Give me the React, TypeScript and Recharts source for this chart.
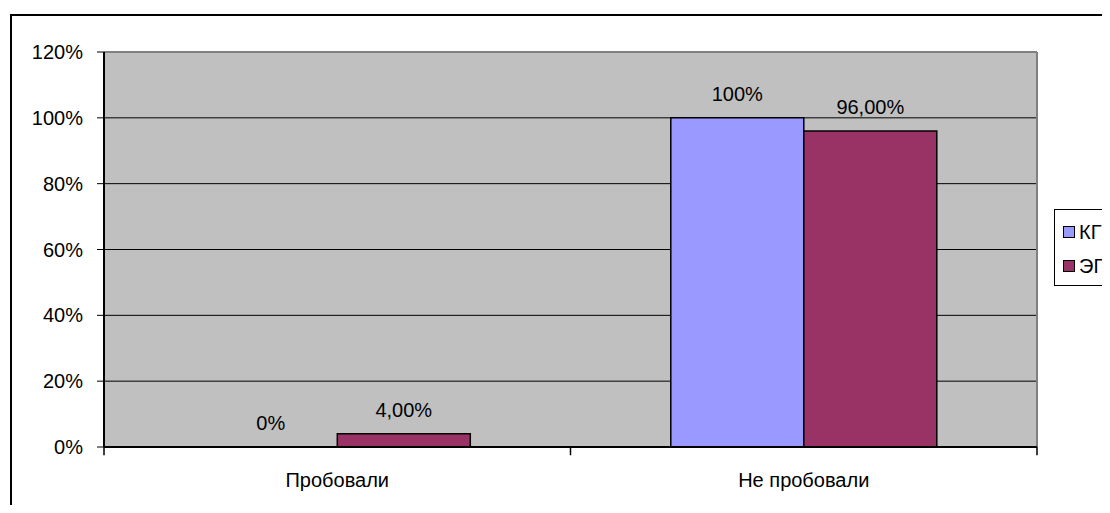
import { BarChart, Bar, XAxis, YAxis, CartesianGrid, LabelList, ReferenceLine } from 'recharts';

const categories = ['Пробовали', 'Не пробовали'];
const kgValues = [0, 1];
const egValues = [0.04, 0.96];
const yTicks = [0, 0.2, 0.4, 0.6, 0.8, 1, 1.2];
const boundaryTicks = [0, 1, 2];
const series = [
  { key: 'kg', label: 'КГ', color: '#9999ff' },
  { key: 'eg', label: 'ЭГ', color: '#993366' },
];

const data = categories.map((name, i) => ({ name, kg: kgValues[i], eg: egValues[i] }));

const FAMILY = '"Liberation Sans", Arial, sans-serif';
const font = { fontFamily: FAMILY, fontSize: 20, fill: '#000' };

const pct = (v: number) => `${Math.round(v * 100)}%`;
const pct2 = (v: number) => `${(v * 100).toFixed(2).replace('.', ',')}%`;

// recharts skips labels of zero-height bars, so both labels of a category
// are drawn from the ЭГ bar: the КГ bar sits right next to it (barGap 0)
const pairLabels = (p: any) => {
  const { x, y, width, height, index } = p;
  const eg = egValues[index];
  const kg = kgValues[index];
  const base = y + height;
  const perUnit = height / eg;
  return (
    <g>
      <text x={x - width / 2} y={base - kg * perUnit - 17} textAnchor="middle" style={font}>
        {pct(kg)}
      </text>
      <text x={x + width / 2} y={y - 17} textAnchor="middle" style={font}>
        {pct2(eg)}
      </text>
    </g>
  );
};

function LegendBox() {
  return (
    <div
      style={{
        position: 'absolute',
        left: 1054,
        top: 209,
        width: 80,
        height: 77,
        border: '1px solid #000',
        boxSizing: 'border-box',
        background: '#fff',
        fontFamily: FAMILY,
        fontSize: 20,
      }}
    >
      {series.map((s, i) => (
        <div
          key={s.key}
          style={{ position: 'absolute', left: 8, top: 10 + i * 34, height: 24, display: 'flex', alignItems: 'center' }}
        >
          <span
            style={{
              width: 10,
              height: 10,
              border: '1px solid #000',
              background: s.color,
              marginRight: 4,
              display: 'inline-block',
            }}
          />
          <span>{s.label}</span>
        </div>
      ))}
    </div>
  );
}

export default function App() {
  return (
    <div style={{ position: 'relative', width: 1110, height: 513, margin: -8, overflow: 'hidden', background: '#fff' }}>
      <div
        style={{
          position: 'absolute',
          left: 10,
          top: 14,
          width: 1200,
          height: 600,
          border: '2px solid #000',
          boxSizing: 'border-box',
        }}
      />
      <div style={{ position: 'absolute', left: 0, top: 0 }}>
        <BarChart
          width={1110}
          height={513}
          data={data}
          margin={{ top: 52, right: 73, bottom: 36, left: 8 }}
          barCategoryGap="21.5%"
          barGap={0}
        >
          <CartesianGrid vertical={false} fill="#c0c0c0" fillOpacity={1} stroke="#000" />
          <XAxis xAxisId="b" type="number" dataKey={() => 0} domain={[0, 2]} hide />
          <XAxis
            dataKey="name"
            height={30}
            axisLine={{ stroke: '#000', strokeWidth: 2 }}
            tickLine={false}
            tickSize={0}
            tickMargin={26}
            tick={font}
          />
          <YAxis
            width={96}
            domain={[0, 1.2]}
            ticks={yTicks}
            tickFormatter={pct}
            tick={font}
            tickSize={7}
            tickMargin={14}
            axisLine={{ stroke: '#000', strokeWidth: 2 }}
            tickLine={{ stroke: '#000' }}
          />
          <ReferenceLine xAxisId="b" x={2} stroke="#808080" strokeWidth={2} />
          <ReferenceLine xAxisId="b" y={1.2} stroke="#808080" strokeWidth={2} />
          {boundaryTicks.map((t) => (
            <ReferenceLine
              key={t}
              xAxisId="b"
              segment={[
                { x: t, y: 0 },
                { x: t, y: -0.025 },
              ]}
              ifOverflow="visible"
              stroke="#000"
              strokeWidth={1.5}
            />
          ))}
          <Bar dataKey="kg" name="КГ" fill="#9999ff" stroke="#000" strokeWidth={1.5} isAnimationActive={false} />
          <Bar dataKey="eg" name="ЭГ" fill="#993366" stroke="#000" strokeWidth={1.5} isAnimationActive={false}>
            <LabelList dataKey="eg" content={pairLabels} />
          </Bar>
        </BarChart>
      </div>
      <LegendBox />
    </div>
  );
}
